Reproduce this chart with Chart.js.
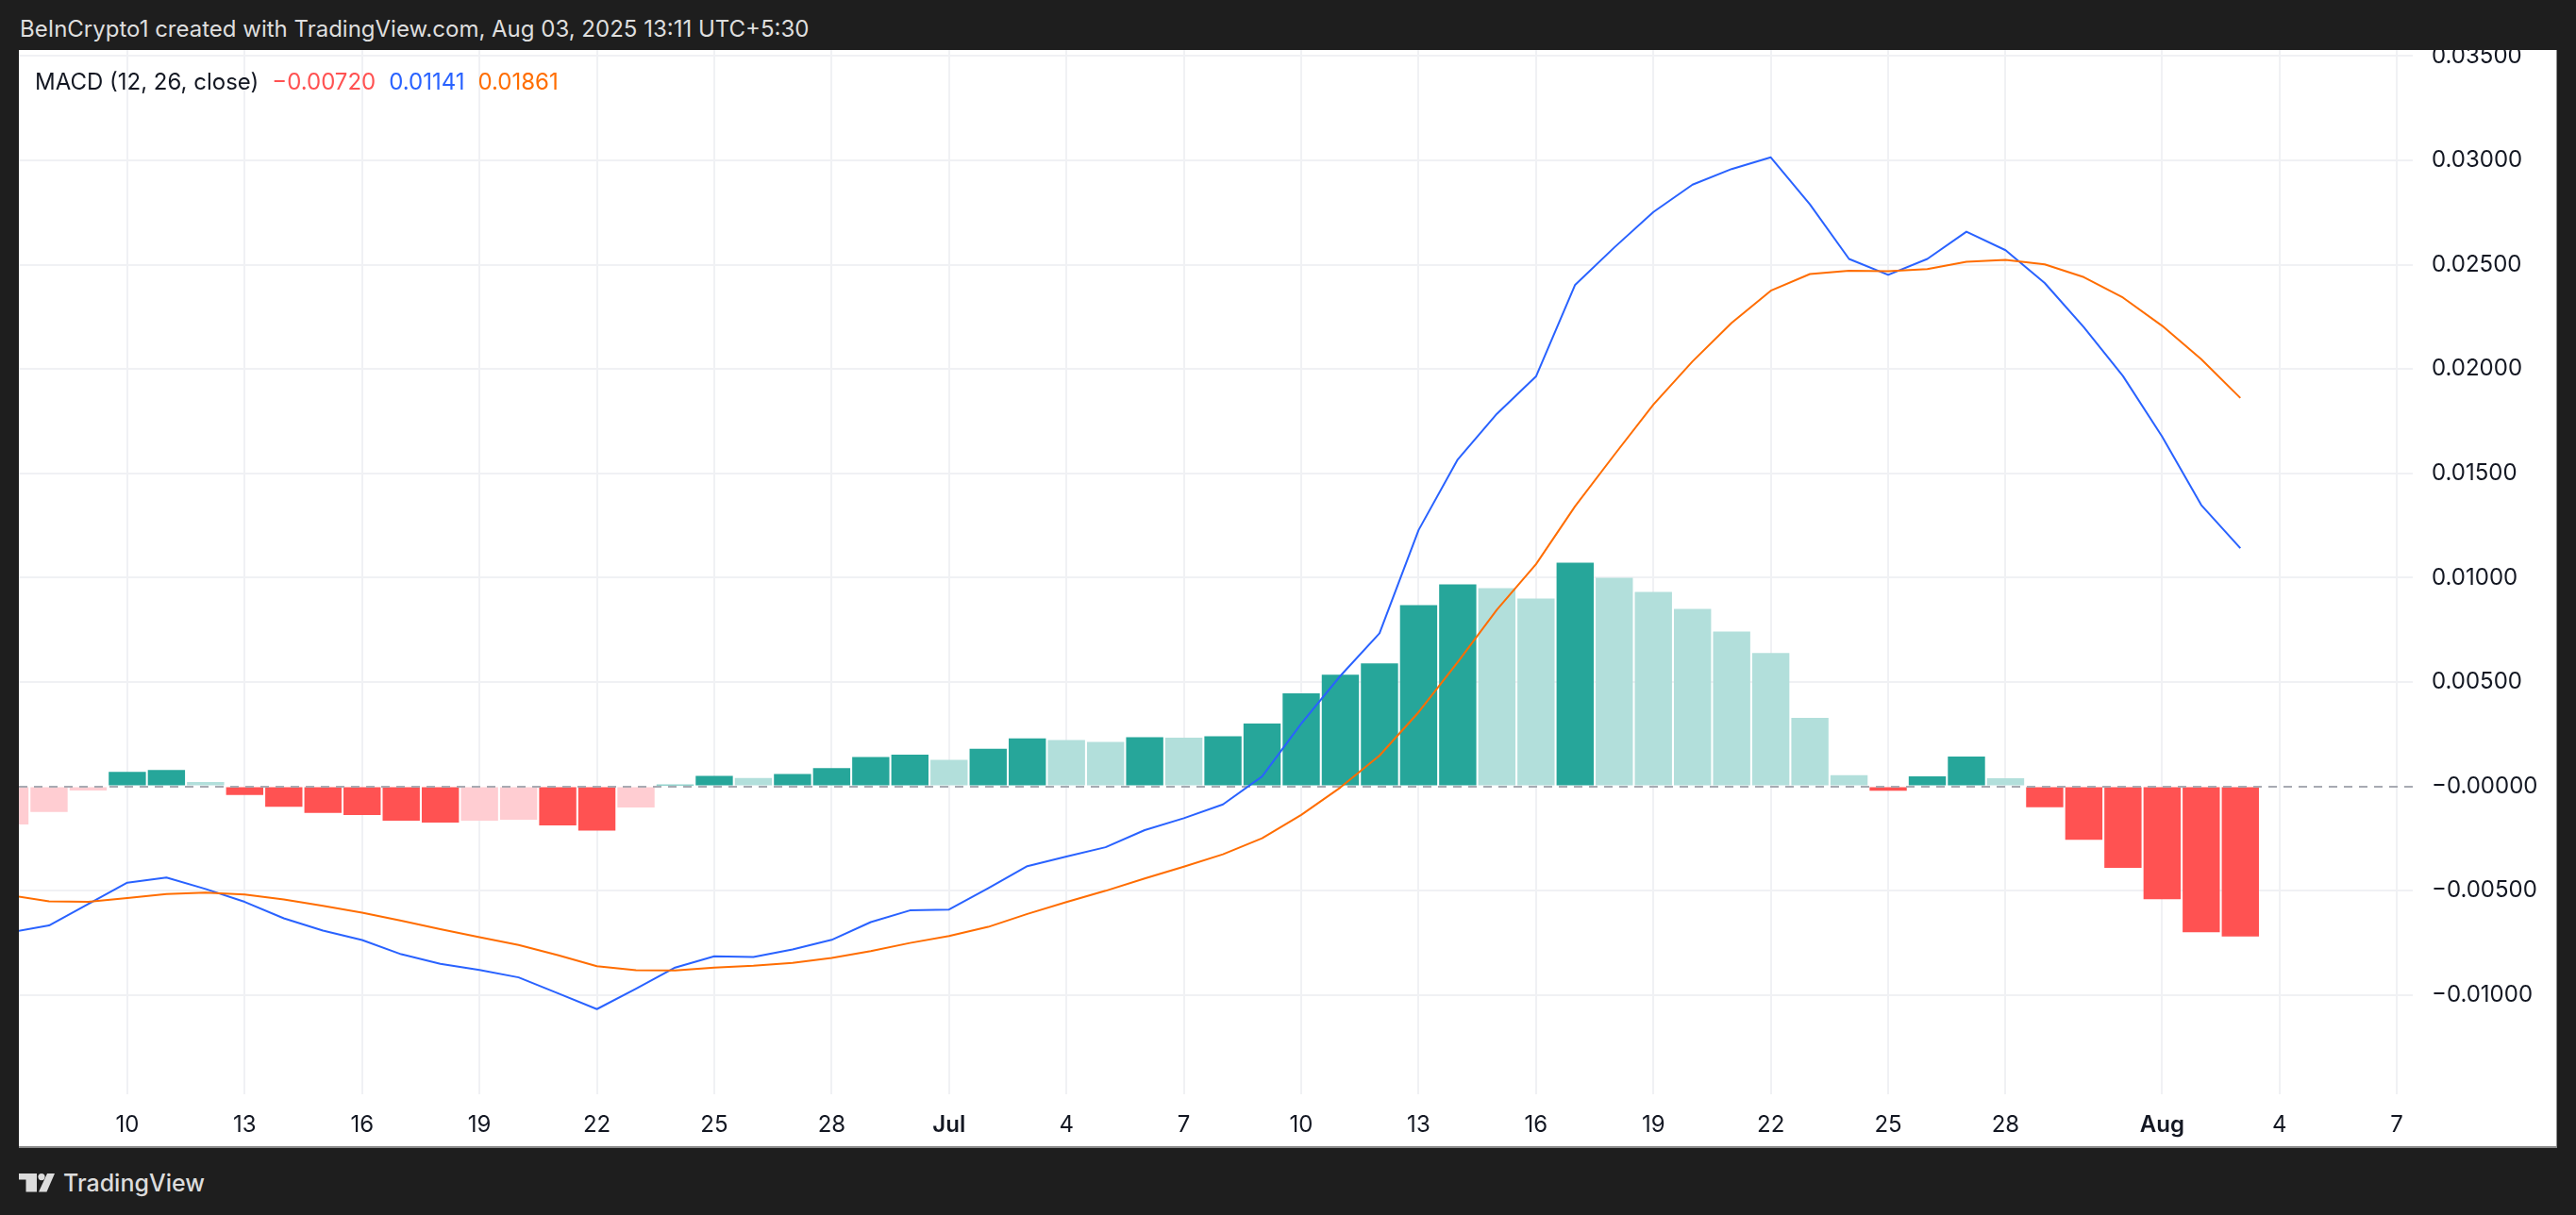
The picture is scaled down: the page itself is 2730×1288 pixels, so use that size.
<!DOCTYPE html>
<html>
<head>
<meta charset="utf-8">
<script src="https://cdn.jsdelivr.net/npm/chart.js@4.4.1/dist/chart.umd.min.js"></script>
<style>
html,body{margin:0;padding:0;}
body{width:2730px;height:1288px;background:#1e1e1e;position:relative;overflow:hidden;font-family:Inter,"DejaVu Sans",sans-serif;}
#hdr{position:absolute;left:21px;top:19px;font-size:24px;line-height:24px;color:#dedede;white-space:nowrap;}
#panel{position:absolute;left:20px;top:53px;width:2690px;height:1164px;background:#fff;}
#wrap{position:absolute;left:0;top:0;width:2690px;height:1164px;}
#legend{position:absolute;left:17px;top:22px;font-size:24px;line-height:24px;color:#131722;white-space:nowrap;}
#legend span{margin-left:14px;}
#edgeR{position:absolute;left:2709px;top:53px;width:1px;height:1164px;background:#8e8e8e;}
#edgeB{position:absolute;left:20px;top:1215px;width:2690px;height:2px;background:#8a8a8a;}
#logo{position:absolute;left:20px;top:1241px;height:26px;display:flex;align-items:center;color:#dcdcdc;}
#logo span{font-size:25px;line-height:26px;font-weight:500;margin-left:9px;}
</style>
</head>
<body>
<div id="hdr">BeInCrypto1 created with TradingView.com, Aug 03, 2025 13:11 UTC+5:30</div>
<div id="panel">
  <div id="wrap"><canvas id="c"></canvas></div>
  <div id="legend">MACD (12, 26, close)<span id="lh" style="color:#FF5252"></span><span id="lm" style="color:#2962FF"></span><span id="ls" style="color:#FF6D00"></span></div>
</div>
<div id="edgeR"></div>
<div id="edgeB"></div>
<div id="logo">
  <svg width="38" height="20" viewBox="0 0 38 20">
    <rect x="0" y="0" width="19" height="6.5" fill="#dcdcdc"/>
    <rect x="7.5" y="0" width="11.5" height="19.5" fill="#dcdcdc"/>
    <circle cx="24" cy="3.6" r="3.6" fill="#dcdcdc"/>
    <polygon points="30,0 38,0 29.5,19.5 21,19.5" fill="#dcdcdc"/>
  </svg>
  <span>TradingView</span>
</div>
<script>
// ---------------- data ----------------
const dates = [
  "2025-06-07","2025-06-08","2025-06-09","2025-06-10","2025-06-11","2025-06-12","2025-06-13","2025-06-14",
  "2025-06-15","2025-06-16","2025-06-17","2025-06-18","2025-06-19","2025-06-20","2025-06-21","2025-06-22",
  "2025-06-23","2025-06-24","2025-06-25","2025-06-26","2025-06-27","2025-06-28","2025-06-29","2025-06-30",
  "2025-07-01","2025-07-02","2025-07-03","2025-07-04","2025-07-05","2025-07-06","2025-07-07","2025-07-08",
  "2025-07-09","2025-07-10","2025-07-11","2025-07-12","2025-07-13","2025-07-14","2025-07-15","2025-07-16",
  "2025-07-17","2025-07-18","2025-07-19","2025-07-20","2025-07-21","2025-07-22","2025-07-23","2025-07-24",
  "2025-07-25","2025-07-26","2025-07-27","2025-07-28","2025-07-29","2025-07-30","2025-07-31",
  "2025-08-01","2025-08-02","2025-08-03"
];
const histogram = [
  -0.00183,-0.00123,-0.00020,0.00069,0.00078,0.00020,-0.00042,-0.00098,
  -0.00128,-0.00138,-0.00165,-0.00174,-0.00165,-0.00160,-0.00188,-0.00213,
  -0.00102,0.00008,0.00050,0.00040,0.00059,0.00087,0.00140,0.00151,
  0.00127,0.00180,0.00230,0.00221,0.00212,0.00235,0.00233,0.00240,
  0.00301,0.00445,0.00535,0.00589,0.00868,0.00967,0.00949,0.00900,
  0.01071,0.00999,0.00931,0.00850,0.00742,0.00639,0.00328,0.00053,
  -0.00022,0.00048,0.00143,0.00039,-0.00100,-0.00257,-0.00391,
  -0.00541,-0.00699,-0.00720
];
const macd = [
  -0.00700,-0.00667,-0.00565,-0.00462,-0.00437,-0.00492,-0.00554,-0.00633,
  -0.00692,-0.00737,-0.00805,-0.00851,-0.00880,-0.00916,-0.00992,-0.01068,
  -0.00970,-0.00869,-0.00815,-0.00818,-0.00782,-0.00736,-0.00651,-0.00595,
  -0.00591,-0.00489,-0.00383,-0.00337,-0.00292,-0.00210,-0.00153,-0.00087,
  0.00047,0.00300,0.00529,0.00733,0.01228,0.01566,0.01785,0.01964,
  0.02403,0.02582,0.02752,0.02883,0.02958,0.03014,0.02789,0.02527,
  0.02451,0.02527,0.02658,0.02569,0.02412,0.02200,0.01966,
  0.01676,0.01348,0.01141
];
const signal = [
  -0.00522,-0.00551,-0.00554,-0.00536,-0.00516,-0.00510,-0.00519,-0.00542,
  -0.00573,-0.00606,-0.00644,-0.00685,-0.00723,-0.00761,-0.00809,-0.00862,
  -0.00881,-0.00883,-0.00869,-0.00860,-0.00846,-0.00823,-0.00790,-0.00751,
  -0.00718,-0.00674,-0.00612,-0.00555,-0.00501,-0.00442,-0.00385,-0.00326,
  -0.00249,-0.00137,-0.00006,0.00147,0.00355,0.00595,0.00846,0.01064,
  0.01342,0.01588,0.01829,0.02036,0.02221,0.02375,0.02455,0.02471,
  0.02468,0.02479,0.02514,0.02523,0.02501,0.02440,0.02342,
  0.02207,0.02047,0.01861
];
const xTickDates = [
  "2025-06-10","2025-06-13","2025-06-16","2025-06-19","2025-06-22","2025-06-25","2025-06-28",
  "2025-07-01","2025-07-04","2025-07-07","2025-07-10","2025-07-13","2025-07-16","2025-07-19",
  "2025-07-22","2025-07-25","2025-07-28","2025-08-01","2025-08-04","2025-08-07"
];
const yTicks = [-0.01,-0.005,0,0.005,0.01,0.015,0.02,0.025,0.03,0.035];
const monthNames = ["Jan","Feb","Mar","Apr","May","Jun","Jul","Aug","Sep","Oct","Nov","Dec"];

// ---------------- derived ----------------
const DAY = 86400000;
const t0 = Date.parse(dates[0] + "T00:00:00Z");
const dayIndex = s => Math.round((Date.parse(s + "T00:00:00Z") - t0) / DAY);
const xs = dates.map(dayIndex);
const xTickIdx = xTickDates.map(dayIndex);
const xTickIsMonth = xTickDates.map(s => new Date(s + "T00:00:00Z").getUTCDate() === 1);
const xTickLabels = xTickDates.map(s => {
  const d = new Date(s + "T00:00:00Z");
  return d.getUTCDate() === 1 ? monthNames[d.getUTCMonth()] : String(d.getUTCDate());
});
const fmt = v => (v <= 0 ? "\u2212" : "") + Math.abs(v).toFixed(5);

const barColors = histogram.map((v, i) => {
  const p = i > 0 ? histogram[i - 1] : -Infinity;
  if (v >= 0) return v > p ? "#26A69A" : "#B2DFDB";
  return v > p ? "#FFCDD2" : "#FF5252";
});

document.getElementById("lh").textContent = fmt(histogram[histogram.length - 1]);
document.getElementById("lm").textContent = fmt(macd[macd.length - 1]);
document.getElementById("ls").textContent = fmt(signal[signal.length - 1]);

const X_MIN = 0.229, X_MAX = 61.406;
const Y_MIN = -0.01476, Y_MAX = 0.035285;

const zeroLine = {
  id: "zeroLine",
  afterDatasetDraw(chart, args) {
    if (args.index !== 0) return;
    const {ctx, chartArea: {left, right}, scales: {y}} = chart;
    const py = Math.round(y.getPixelForValue(0));
    ctx.save();
    ctx.setLineDash([9, 7]);
    ctx.strokeStyle = "#a7aab2";
    ctx.lineWidth = 2;
    ctx.beginPath();
    ctx.moveTo(left, py);
    ctx.lineTo(right, py);
    ctx.stroke();
    ctx.restore();
  }
};

Chart.defaults.font.family = "Inter";

new Chart(document.getElementById("c"), {
  type: "bar",
  data: {
    datasets: [
      {
        type: "bar", label: "Histogram",
        data: xs.map((x, i) => ({x, y: histogram[i]})),
        backgroundColor: barColors, borderWidth: 0,
        barPercentage: 0.95, categoryPercentage: 1, order: 2
      },
      {
        type: "line", label: "MACD",
        data: xs.map((x, i) => ({x, y: macd[i]})),
        borderColor: "#2962FF", borderWidth: 2, pointRadius: 0, tension: 0,
        borderJoinStyle: "round", fill: false, order: 1
      },
      {
        type: "line", label: "Signal",
        data: xs.map((x, i) => ({x, y: signal[i]})),
        borderColor: "#FF6D00", borderWidth: 2, pointRadius: 0, tension: 0,
        borderJoinStyle: "round", fill: false, order: 0
      }
    ]
  },
  options: {
    responsive: true,
    maintainAspectRatio: false,
    animation: false,
    events: [],
    layout: {padding: 0, autoPadding: false},
    plugins: {legend: {display: false}, tooltip: {enabled: false}},
    scales: {
      x: {
        type: "linear", min: X_MIN, max: X_MAX, offset: false,
        afterBuildTicks: s => { s.ticks = xTickIdx.map(v => ({value: v})); },
        afterFit: s => { s.height = 57; s.paddingLeft = 0; s.paddingRight = 0; },
        ticks: {
          autoSkip: false, maxRotation: 0, minRotation: 0, padding: 18, color: "#131722",
          font: ctx => ({family: "Inter", size: 24, weight: xTickIsMonth[ctx.index] ? "600" : "400"}),
          callback: (v, i) => xTickLabels[i]
        },
        grid: {color: "#f0f1f4", lineWidth: 2, drawTicks: false, offset: false},
        border: {display: false}
      },
      y: {
        type: "linear", position: "right", min: Y_MIN, max: Y_MAX,
        afterBuildTicks: s => { s.ticks = yTicks.map(v => ({value: v})); },
        afterFit: s => { s.width = 153; s.paddingTop = 0; s.paddingBottom = 0; },
        ticks: {padding: 20, color: "#131722", font: {family: "Inter", size: 24}, callback: v => fmt(v)},
        grid: {
          color: ctx => (ctx.tick && ctx.tick.value === 0) ? "rgba(0,0,0,0)" : "#f0f1f4",
          lineWidth: 2, drawTicks: false, offset: false
        },
        border: {display: false}
      }
    }
  },
  plugins: [zeroLine]
});
</script>
</body>
</html>
